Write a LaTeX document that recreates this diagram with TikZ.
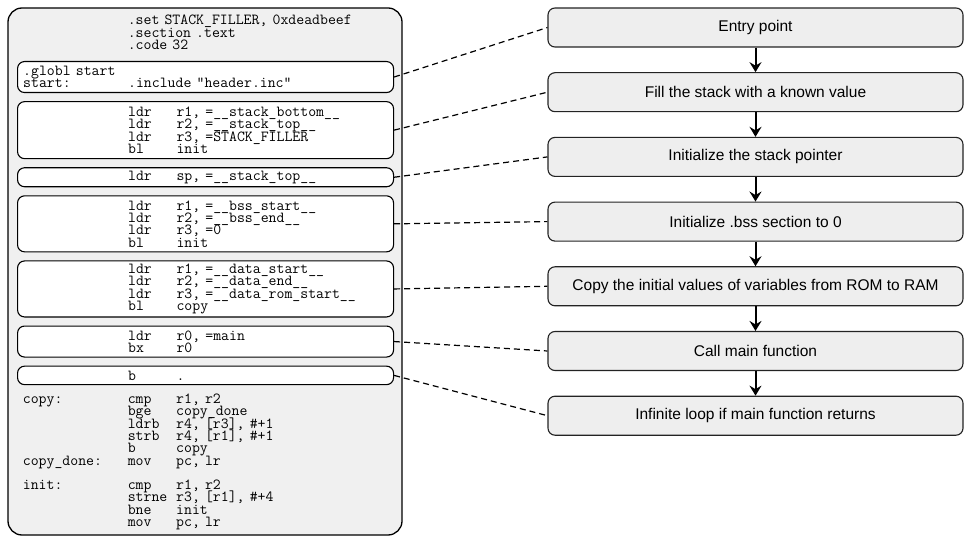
\documentclass[tikz,border=0pt]{standalone}
\usepackage{fontspec}
\setmainfont{Liberation Sans}
\usepackage{tikz}
\usetikzlibrary{arrows.meta,positioning}
\definecolor{panelgray}{RGB}{240,240,240}
\definecolor{stepgray}{RGB}{238,238,238}
\definecolor{edgegray}{RGB}{35,35,35}
\newlength\labw \setlength\labw{104.9pt}
\newlength\mnw \setlength\mnw{48.4pt}
\newcommand\codesize{\ttfamily\fontsize{15.37}{12.3}\selectfont\lineskiplimit=-20pt}
\newcommand\cl[3]{\makebox[\labw][l]{#1}\makebox[\mnw][l]{#2}#3}
\tikzset{
  panel/.style={draw=black,fill=panelgray,line width=1.3pt,rounded corners=14pt},
  codebox/.style={draw=black,fill=white,line width=1.1pt,rounded corners=7pt,minimum width=376pt,text width=364.6pt,inner xsep=5.7pt,inner ysep=0pt,font=\codesize},
  codetext/.style={inner sep=0pt,anchor=base west,text width=370pt,font=\codesize},
  stepbox/.style={draw=edgegray,fill=stepgray,line width=1.1pt,rounded corners=7pt,minimum width=415pt,minimum height=39pt,font=\fontsize{15.5}{18}\selectfont},
  arr/.style={-{Stealth[length=10pt,width=12pt,inset=3.5pt]},line width=2pt},
  link/.style={line width=1.2pt,dash pattern=on 6pt off 4pt}
}
\begin{document}
\begin{tikzpicture}[x=1pt,y=-1pt]
  \useasboundingbox (0,0) rectangle (969,537);
  % code listing
  \draw[panel] (8,8) rectangle (402,535);
  \node[codetext] (hdr) at (22.7,25) {\hspace*{\labw}.set STACK\_FILLER, 0xdeadbeef\\
    \hspace*{\labw}.section .text\\
    \hspace*{\labw}.code 32};
  \node[codebox,anchor=north west,minimum height=31pt] (c1) at (17,61) {.globl start\\
    \makebox[\labw][l]{start:}.include "header.inc"};
  \node[codebox,minimum height=57pt,below=8pt of c1] (c2) {\cl{}{ldr}{r1, =\_\_stack\_bottom\_\_}\\
    \cl{}{ldr}{r2, =\_\_stack\_top\_\_}\\
    \cl{}{ldr}{r3, =STACK\_FILLER}\\
    \cl{}{bl}{init}};
  \node[codebox,minimum height=19pt,below=8pt of c2] (c3) {\cl{}{ldr}{sp, =\_\_stack\_top\_\_}};
  \node[codebox,minimum height=56pt,below=8pt of c3] (c4) {\cl{}{ldr}{r1, =\_\_bss\_start\_\_}\\
    \cl{}{ldr}{r2, =\_\_bss\_end\_\_}\\
    \cl{}{ldr}{r3, =0}\\
    \cl{}{bl}{init}};
  \node[codebox,minimum height=56pt,below=8pt of c4] (c5) {\cl{}{ldr}{r1, =\_\_data\_start\_\_}\\
    \cl{}{ldr}{r2, =\_\_data\_end\_\_}\\
    \cl{}{ldr}{r3, =\_\_data\_rom\_start\_\_}\\
    \cl{}{bl}{copy}};
  \node[codebox,minimum height=31pt,below=8pt of c5] (c6) {\cl{}{ldr}{r0, =main}\\
    \cl{}{bx}{r0}};
  \node[codebox,minimum height=18.5pt,below=8pt of c6] (c7) {\cl{}{b}{.}};
  \node[codetext] (ftr) at (22.7,403.5) {\cl{copy:}{cmp}{r1, r2}\\
    \cl{}{bge}{copy\_done}\\
    \cl{}{ldrb}{r4, [r3], \#+1}\\
    \cl{}{strb}{r4, [r1], \#+1}\\
    \cl{}{b}{copy}\\
    \cl{copy\_done:}{mov}{pc, lr}\\[12.3pt]
    \cl{init:}{cmp}{r1, r2}\\
    \cl{}{strne}{r3, [r1], \#+4}\\
    \cl{}{bne}{init}\\
    \cl{}{mov}{pc, lr}};
  % flow of steps
  \node[stepbox] (s1) at (755.5,27.5) {Entry point};
  \node[stepbox,below=24.6pt of s1] (s2) {Fill the stack with a known value};
  \node[stepbox,below=24.6pt of s2] (s3) {Initialize the stack pointer};
  \node[stepbox,below=24.6pt of s3] (s4) {Initialize .bss section to 0};
  \node[stepbox,below=24.6pt of s4] (s5) {Copy the initial values of variables from ROM to RAM};
  \node[stepbox,below=24.6pt of s5] (s6) {Call main function};
  \node[stepbox,below=24.6pt of s6] (s7) {Infinite loop if main function returns};
  \foreach \i/\j in {1/2,2/3,3/4,4/5,5/6,6/7}
    \draw[arr] (s\i) -- (s\j);
  \foreach \i in {1,...,7}
    \draw[link] (c\i.east) -- (s\i.west);
\end{tikzpicture}
\end{document}
